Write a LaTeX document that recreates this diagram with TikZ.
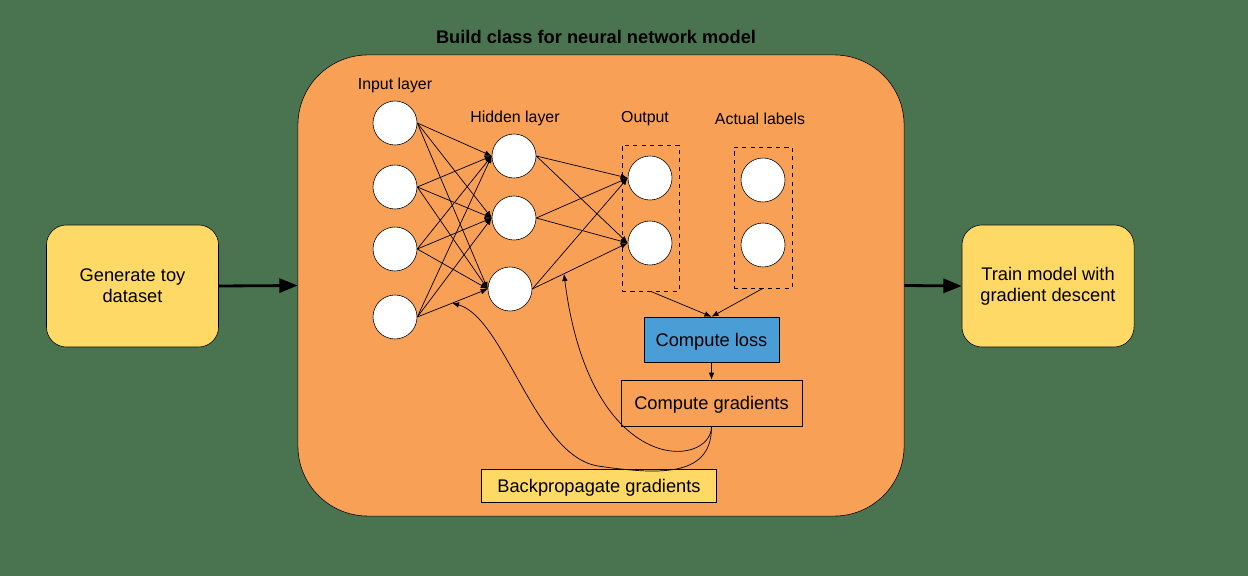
\documentclass[tikz,border=0pt]{standalone}
\usepackage{fontspec}
\setmainfont{Liberation Sans}
\usetikzlibrary{arrows.meta, positioning}
\definecolor{bggreen}{RGB}{74,116,80}
\definecolor{modelorange}{RGB}{248,160,86}
\definecolor{stepyellow}{RGB}{255,217,102}
\definecolor{lossblue}{RGB}{74,157,213}

\begin{document}
\begin{tikzpicture}[x=0.025cm, y=-0.025cm,
  stepbox/.style={draw, fill=stepyellow, rounded corners=0.5cm, minimum width=4.3cm, minimum height=3.05cm, align=center, font=\fontsize{13}{15}\selectfont},
  neuron/.style={circle, draw, fill=white, minimum size=1.1cm, inner sep=0pt},
  flatbox/.style={draw, inner sep=0pt, text depth=0pt, font=\fontsize{13}{15}\selectfont},
  groupbox/.style={draw, dashed, inner sep=0pt},
  lbl/.style={font=\fontsize{11.3}{13}\selectfont},
  conn/.style={-{Latex[length=5pt,width=4pt]}, line width=0.5pt},
  bigarrow/.style={-{Triangle[length=13pt,width=10pt]}, line width=2pt}
]
  \fill[bggreen] (0,0) rectangle (1248,576);

  % pipeline
  \node[stepbox] (gen) at (132.5,286) {Generate toy\\dataset};
  \node[draw, fill=modelorange, rounded corners=1.75cm, minimum width=15.15cm, minimum height=11.525cm] (model) at (601,285.5) {};
  \node[stepbox] (train) at (1048,286) {Train model with\\gradient descent};
  \node[font=\bfseries\fontsize{13}{15}\selectfont] (title) at (596,37) {Build class for neural network model};
  \draw[bigarrow] (gen.east) -- (model.west);
  \draw[bigarrow] (model.east) -- (train.west);

  % labels
  \node[lbl] (inlbl) at (395,85) {Input layer};
  \node[lbl] (hidlbl) at (515,118) {Hidden layer};
  \node[lbl] (outlbl) at (645,119) {Output};
  \node[lbl] (lablbl) at (760,119) {Actual labels};

  % network
  \node[groupbox, minimum width=1.425cm, minimum height=3.65cm] (outbox) at (650.5,218) {};
  \node[groupbox, minimum width=1.45cm, minimum height=3.525cm] (labbox) at (763,217.5) {};
  \foreach \i/\y in {1/123,2/187,3/249,4/317}
    \node[neuron] (in\i) at (395,\y) {};
  \foreach \j/\x/\y in {1/514/156,2/514/218,3/510/289}
    \node[neuron] (hid\j) at (\x,\y) {};
  \foreach \k/\y in {1/178,2/243}
    \node[neuron] (out\k) at (650,\y) {};
  \foreach \k/\y in {1/180,2/245}
    \node[neuron] (lab\k) at (763,\y) {};
  \foreach \i in {1,...,4}
    \foreach \j in {1,2,3}
      \draw[conn] (in\i.east) -- (hid\j.west);
  \foreach \j in {1,2,3}
    \foreach \k in {1,2}
      \draw[conn] (hid\j.east) -- (out\k.west);

  % loss and gradients
  \node[flatbox, fill=lossblue, minimum width=3.375cm, minimum height=1.125cm] (loss) at (711.5,339.5) {Compute loss};
  \node[flatbox, minimum width=4.525cm, minimum height=1.15cm] (grads) at (711.5,403) {Compute gradients};
  \node[flatbox, fill=stepyellow, minimum width=5.875cm, minimum height=0.825cm] (backprop) at (599,485.5) {Backpropagate gradients};
  \draw[conn] (outbox.south) -- (loss.north);
  \draw[conn] (labbox.south) -- (loss.north);
  \draw[conn] (loss.south) -- (grads.north);

  % backpropagation
  \coordinate (hitout) at (564,274);
  \coordinate (hitin) at (452,303);
  \draw[conn] (grads.south) .. controls (712,468) and (590,480) .. (hitout);
  \draw[conn] (grads.south) .. controls (712,475) and (665,476) .. (598,466)
    .. controls (535,456) and (505,318) .. (hitin);
\end{tikzpicture}
\end{document}
